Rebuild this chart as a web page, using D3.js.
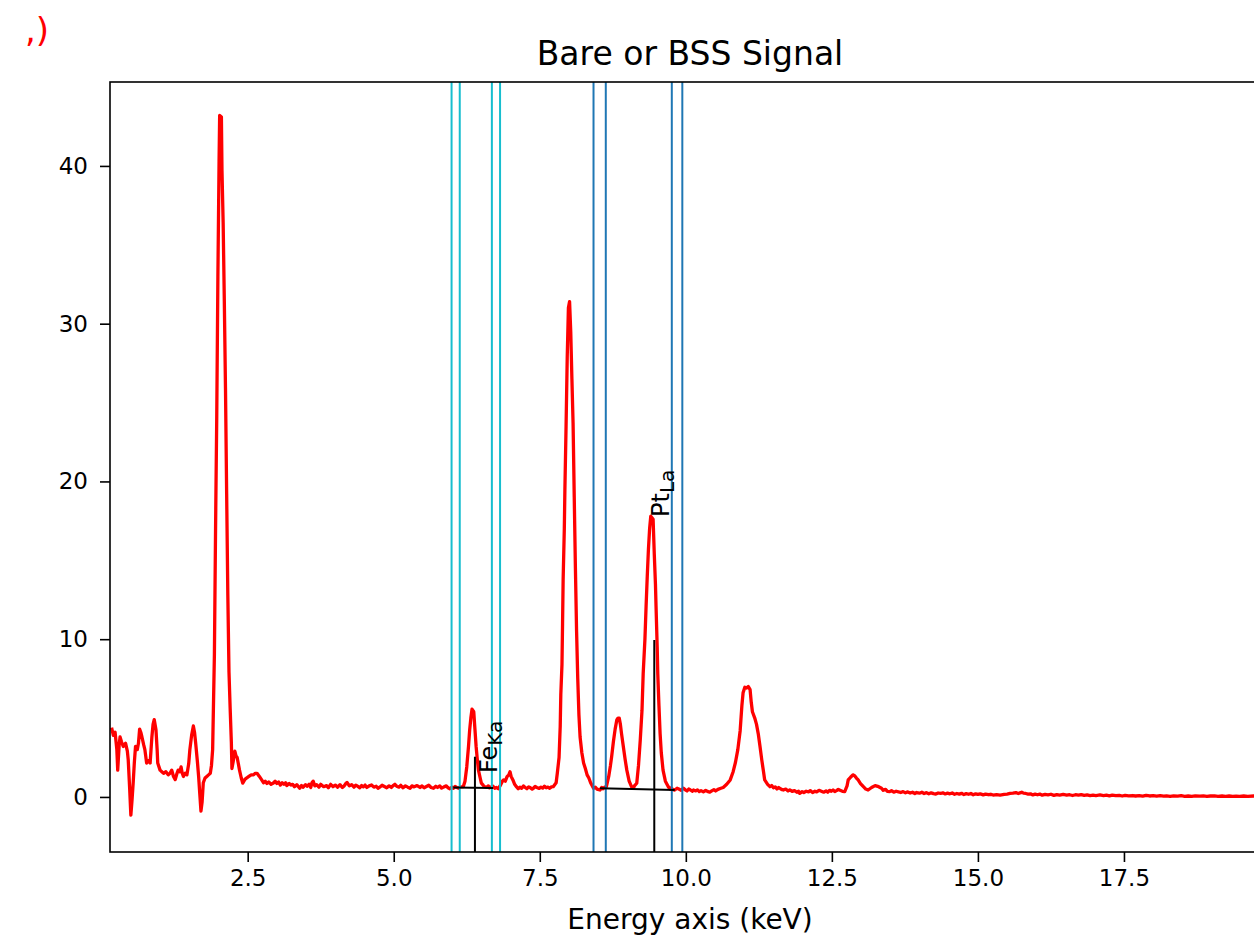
<!DOCTYPE html>
<html>
<head>
<meta charset="utf-8">
<script src="https://cdn.jsdelivr.net/npm/d3@7"></script>
<style>
  body { margin: 0; background: #fff; }
  text { font-family: "DejaVu Sans", sans-serif; }
</style>
</head>
<body>
<div id="chart"></div>
<script>
// spectrum: [energy keV, signal]
const bssSignal = [
  [0.17,4.4],[0.20,3.9],[0.23,4.1],[0.26,3.0],[0.275,1.7],[0.30,3.3],[0.315,3.8],[0.34,3.5],
  [0.37,3.2],[0.41,3.4],[0.44,2.9],[0.455,2.35],[0.48,0.5],[0.50,-1.15],[0.52,-0.2],[0.54,0.9],
  [0.56,2.2],[0.58,3.2],[0.61,3.0],[0.63,3.4],[0.65,4.3],[0.67,4.1],[0.69,3.8],[0.72,3.3],
  [0.74,3.0],[0.77,2.15],[0.80,2.3],[0.83,2.15],[0.86,3.8],[0.88,4.6],[0.90,4.9],[0.93,4.25],
  [0.95,3.0],[0.96,2.15],[1.00,1.7],[1.03,1.6],[1.06,1.5],[1.10,1.6],[1.14,1.4],[1.17,1.5],
  [1.20,1.7],[1.23,1.3],[1.26,1.1],[1.29,1.5],[1.31,1.7],[1.34,1.6],[1.36,1.9],[1.38,1.5],
  [1.40,1.3],[1.43,1.5],[1.46,1.4],[1.49,2.1],[1.51,3.0],[1.54,3.9],[1.57,4.5],[1.59,4.1],
  [1.61,3.4],[1.64,2.2],[1.66,1.3],[1.68,0.2],[1.70,-0.9],[1.72,-0.3],[1.74,0.9],[1.77,1.2],
  [1.80,1.3],[1.83,1.4],[1.86,1.5],[1.88,2.0],[1.90,3.0],[1.93,9.0],[1.95,17.0],[1.97,24.0],
  [1.99,33.0],[2.01,40.3],[2.02,43.2],[2.05,43.1],[2.06,39.7],[2.08,36.4],[2.10,31.4],[2.12,25.9],
  [2.14,19.2],[2.16,12.8],[2.18,7.9],[2.20,5.6],[2.22,3.5],[2.23,1.8],[2.25,2.2],[2.28,2.9],
  [2.30,2.6],[2.32,2.5],[2.34,2.1],[2.36,1.7],[2.39,1.2],[2.415,0.88],[2.45,1.1],[2.48,1.2],
  [2.52,1.3],[2.56,1.4],[2.60,1.4],[2.63,1.5],[2.66,1.5],[2.70,1.3],[2.74,1.08],[2.77,0.9],[2.80,1.0],
  [2.83,0.85],[2.86,0.95],[2.90,0.8],[2.94,0.88],[2.97,1.0],[3.00,0.85],[3.03,0.95],[3.06,0.75],
  [3.09,0.9],[3.12,0.8],[3.15,0.9],[3.17,0.72],[3.21,0.85],[3.24,0.75],[3.27,0.8],[3.30,0.65],
  [3.34,0.78],[3.39,0.55],[3.42,0.72],[3.45,0.62],[3.49,0.78],[3.52,0.68],[3.55,0.8],[3.58,0.6],
  [3.60,0.9],[3.62,1.0],[3.65,0.7],[3.68,0.78],[3.72,0.62],[3.75,0.8],[3.80,0.65],[3.85,0.72],
  [3.88,0.58],[3.92,0.8],[3.96,0.65],[4.00,0.75],[4.04,0.62],[4.08,0.78],[4.12,0.6],[4.15,0.7],
  [4.18,0.85],[4.20,0.92],[4.24,0.7],[4.28,0.78],[4.32,0.62],[4.35,0.75],[4.38,0.68],[4.42,0.58],
  [4.45,0.72],[4.48,0.64],[4.51,0.75],[4.54,0.6],[4.58,0.7],[4.62,0.76],[4.66,0.62],[4.70,0.68],
  [4.73,0.55],[4.76,0.62],[4.80,0.74],[4.84,0.66],[4.88,0.58],[4.92,0.7],[4.96,0.6],[4.99,0.72],
  [5.02,0.8],[5.05,0.68],[5.09,0.62],[5.12,0.74],[5.16,0.58],[5.20,0.7],[5.24,0.62],[5.28,0.55],
  [5.31,0.7],[5.35,0.64],[5.40,0.72],[5.45,0.6],[5.48,0.7],[5.52,0.58],[5.56,0.66],[5.60,0.74],
  [5.64,0.6],[5.68,0.55],[5.72,0.68],[5.75,0.6],[5.79,0.7],[5.82,0.56],[5.86,0.64],[5.90,0.7],
  [5.93,0.58],[5.96,0.52],[6.00,0.62],[6.02,0.55],[6.05,0.66],[6.08,0.6],[6.11,0.55],[6.14,0.64],
  [6.19,0.65],[6.22,1.0],[6.25,1.9],[6.28,3.2],[6.30,4.25],[6.32,5.0],[6.34,5.56],[6.37,5.4],
  [6.39,4.3],[6.41,3.2],[6.43,2.4],[6.45,1.7],[6.48,1.2],[6.50,0.88],[6.53,0.75],[6.55,0.65],
  [6.59,0.61],[6.62,0.7],[6.64,0.58],[6.67,0.64],[6.70,0.68],[6.73,0.55],[6.76,0.6],[6.79,0.52],
  [6.82,0.7],[6.86,1.0],[6.88,1.08],[6.91,1.0],[6.94,1.29],[6.97,1.4],[6.99,1.6],[7.01,1.3],
  [7.04,1.08],[7.07,0.8],[7.10,0.65],[7.13,0.52],[7.16,0.62],[7.19,0.55],[7.22,0.7],[7.25,0.6],
  [7.28,0.52],[7.31,0.64],[7.34,0.58],[7.37,0.5],[7.39,0.55],[7.42,0.66],[7.45,0.6],[7.49,0.54],
  [7.52,0.62],[7.55,0.56],[7.58,0.68],[7.61,0.58],[7.64,0.62],[7.67,0.55],[7.70,0.64],[7.73,0.65],
  [7.78,0.9],[7.80,1.5],[7.83,2.5],[7.85,4.5],[7.86,6.5],[7.88,8.4],[7.89,11.0],
  [7.90,13.8],[7.92,17.0],[7.93,19.5],[7.95,23.5],[7.97,27.9],[7.99,31.0],[8.01,31.4],[8.03,29.5],
  [8.05,26.5],[8.07,23.7],[8.09,19.0],[8.11,14.5],[8.13,10.5],[8.15,7.5],[8.17,5.2],[8.19,3.8],
  [8.22,2.8],[8.25,2.15],[8.28,1.8],[8.31,1.4],[8.34,1.2],[8.37,0.9],[8.42,0.55],[8.45,0.62],[8.48,0.5],
  [8.53,0.44],[8.56,0.6],[8.58,0.52],[8.61,0.62],[8.64,0.65],[8.68,1.3],[8.71,2.0],[8.73,2.55],[8.76,3.5],[8.79,4.3],
  [8.82,4.9],[8.84,5.0],[8.86,5.0],[8.88,4.6],[8.90,4.0],[8.93,3.2],[8.96,2.4],[8.99,1.7],
  [9.03,1.0],[9.07,0.65],[9.10,0.55],[9.12,0.7],[9.16,0.87],[9.19,2.0],[9.22,3.6],[9.25,5.5],[9.27,7.8],
  [9.30,10.0],[9.32,12.1],[9.34,14.0],[9.36,15.7],[9.38,17.0],[9.40,17.8],[9.42,17.7],[9.44,17.6],
  [9.46,15.4],[9.48,13.5],[9.49,12.1],[9.51,9.5],[9.52,7.8],[9.54,5.8],[9.56,4.0],[9.58,2.8],
  [9.61,1.7],[9.65,1.0],[9.70,0.65],[9.73,0.5],[9.75,0.58],[9.78,0.46],[9.81,0.44],[9.85,0.55],[9.88,0.5],
  [9.92,0.42],[9.96,0.55],[9.99,0.45],[10.02,0.38],[10.05,0.5],[10.08,0.44],[10.11,0.36],[10.13,0.44],
  [10.17,0.38],[10.20,0.45],[10.23,0.34],[10.26,0.4],[10.30,0.32],[10.34,0.42],[10.37,0.35],[10.41,0.3],
  [10.45,0.4],[10.48,0.46],[10.51,0.38],[10.55,0.48],
  [10.60,0.55],[10.64,0.6],[10.70,0.8],[10.76,1.08],[10.81,1.6],[10.85,2.2],[10.89,3.0],[10.93,4.2],
  [10.96,5.8],[10.98,6.6],[11.01,6.95],[11.04,6.9],[11.07,7.0],[11.10,6.8],[11.12,6.0],[11.14,5.4],
  [11.18,5.0],[11.21,4.6],[11.24,4.0],[11.27,3.2],[11.30,2.35],[11.33,1.6],[11.35,1.08],[11.40,0.8],
  [11.44,0.65],[11.47,0.72],[11.50,0.58],[11.53,0.64],[11.56,0.5],[11.59,0.6],[11.62,0.52],[11.65,0.46],
  [11.67,0.44],[11.71,0.5],[11.75,0.38],[11.78,0.45],[11.82,0.35],[11.86,0.4],[11.90,0.3],[11.93,0.36],
  [11.95,0.23],[11.99,0.34],[12.02,0.28],[12.06,0.36],[12.10,0.32],[12.13,0.4],[12.17,0.28],[12.21,0.36],
  [12.24,0.32],[12.28,0.42],[12.32,0.36],[12.36,0.3],[12.40,0.38],[12.43,0.3],[12.46,0.42],[12.49,0.36],
  [12.52,0.44],[12.55,0.34],[12.58,0.4],[12.61,0.48],[12.64,0.42],[12.68,0.36],[12.72,0.34],[12.76,0.7],[12.78,1.08],[12.82,1.25],[12.86,1.4],
  [12.89,1.35],[12.92,1.2],[12.95,1.08],[12.99,0.85],[13.04,0.65],[13.08,0.5],[13.12,0.44],[13.18,0.6],
  [13.24,0.72],[13.30,0.65],[13.35,0.55],[13.38,0.42],[13.42,0.48],[13.45,0.36],[13.49,0.34],[13.52,0.4],[13.56,0.3],[13.60,0.36],[13.64,0.32],[13.68,0.28],[13.72,0.34],
  [13.76,0.26],[13.80,0.32],[13.84,0.25],[13.88,0.3],[13.92,0.22],[13.95,0.28],[14.00,0.24],[14.04,0.3],[14.08,0.22],[14.12,0.27],[14.16,0.2],[14.20,0.26],
  [14.24,0.21],[14.28,0.18],[14.32,0.25],[14.36,0.22],[14.40,0.26],[14.44,0.19],[14.48,0.24],[14.52,0.2],
  [14.56,0.25],[14.60,0.17],[14.64,0.22],[14.68,0.18],[14.72,0.23],[14.76,0.15],[14.80,0.21],[14.84,0.17],
  [14.88,0.22],[14.92,0.14],[14.96,0.2],[15.00,0.16],[15.04,0.2],[15.09,0.13],[15.13,0.18],[15.18,0.14],
  [15.22,0.17],[15.26,0.12],[15.32,0.15],[15.38,0.12],[15.45,0.16],[15.50,0.18],[15.55,0.22],[15.60,0.24],[15.65,0.28],
  [15.69,0.22],[15.72,0.26],[15.75,0.3],[15.78,0.24],[15.82,0.22],[15.86,0.18],[15.90,0.2],[15.94,0.13],
  [15.98,0.18],[16.02,0.14],[16.06,0.18],[16.10,0.11],[16.15,0.16],[16.20,0.13],[16.25,0.17],[16.30,0.1],
  [16.35,0.15],[16.40,0.12],[16.46,0.16],[16.52,0.11],[16.57,0.14],[16.62,0.09],[16.67,0.14],[16.72,0.11],
  [16.77,0.15],[16.82,0.1],[16.87,0.13],[16.92,0.09],[16.97,0.12],[17.02,0.09],[17.09,0.13],[17.15,0.09],
  [17.20,0.11],[17.25,0.07],[17.30,0.12],[17.36,0.08],[17.42,0.1],[17.47,0.06],[17.52,0.1],[17.58,0.07],
  [17.65,0.09],[17.70,0.06],[17.76,0.08],[17.82,0.05],[17.88,0.1],[17.94,0.06],[18.00,0.08],[18.06,0.05],
  [18.12,0.08],[18.18,0.05],[18.23,0.07],[18.29,0.04],[18.35,0.07],[18.42,0.05],[18.48,0.08],[18.54,0.04],
  [18.60,0.06],[18.66,0.04],[18.72,0.07],[18.80,0.05],[18.86,0.07],[18.92,0.04],[18.98,0.06],[19.05,0.07],
  [19.11,0.04],[19.18,0.06],[19.24,0.04],[19.30,0.06],[19.36,0.03],[19.42,0.05],[19.48,0.04],[19.55,0.06],
  [19.62,0.04],[19.72,0.06],[19.78,0.04],[19.85,0.05],[19.92,0.03],[19.99,0.05]
];

// integration window edges (keV)
const bgWindows = [5.99, 6.13, 6.68, 6.82];      // Fe Ka, cyan
const peakWindows = [8.42, 8.63, 9.76, 9.94];    // Pt La, blue

// background fit lines under each peak
const bgFits = [
  {e0: 6.02, v0: 0.60, e1: 6.70, v1: 0.57},
  {e0: 8.53, v0: 0.55, e1: 9.81, v1: 0.44}
];

// line markers and their labels
const lineMarks = [
  {el: "Fe", sub: "Ka", energy: 6.39, height: 2.55, labelE: 6.48, labelV: 1.52},
  {el: "Pt", sub: "La", energy: 9.46, height: 9.95, labelE: 9.42, labelV: 17.75}
];

const xTicks = [2.5, 5.0, 7.5, 10.0, 12.5, 15.0, 17.5];
const yTicks = [0, 10, 20, 30, 40];
const xDomain = [0.143, 20.0];
const yDomain = [-3.49, 45.32];

let margin = {top: 82, left: 110},
    plotW = 1160,
    plotH = 770;

let svg = d3.select("#chart").append("svg")
    .attr("width", 1254)
    .attr("height", 941);

let x = d3.scaleLinear().domain(xDomain).range([margin.left, margin.left + plotW]);
let y = d3.scaleLinear().domain(yDomain).range([margin.top + plotH, margin.top]);

// clip to axes
svg.append("defs").append("clipPath").attr("id", "plotclip")
  .append("rect")
    .attr("x", margin.left).attr("y", margin.top)
    .attr("width", plotW).attr("height", plotH);

let plot = svg.append("g").attr("clip-path", "url(#plotclip)");

// spectrum
let line = d3.line()
    .x(function(d) { return x(d[0]); })
    .y(function(d) { return y(d[1]); });

plot.append("path")
    .datum(bssSignal)
    .attr("d", line)
    .attr("fill", "none")
    .attr("stroke", "#ff0000")
    .attr("stroke-width", 3.3)
    .attr("stroke-linejoin", "round");

// window lines
plot.selectAll(".bgwin")
    .data(bgWindows)
  .enter().append("line")
    .attr("x1", function(d) { return x(d); }).attr("x2", function(d) { return x(d); })
    .attr("y1", margin.top).attr("y2", margin.top + plotH)
    .attr("stroke", "#17becf").attr("stroke-width", 2);

plot.selectAll(".pkwin")
    .data(peakWindows)
  .enter().append("line")
    .attr("x1", function(d) { return x(d); }).attr("x2", function(d) { return x(d); })
    .attr("y1", margin.top).attr("y2", margin.top + plotH)
    .attr("stroke", "#1f77b4").attr("stroke-width", 2);

// background fits
plot.selectAll(".bgfit")
    .data(bgFits)
  .enter().append("line")
    .attr("x1", function(d) { return x(d.e0); }).attr("y1", function(d) { return y(d.v0); })
    .attr("x2", function(d) { return x(d.e1); }).attr("y2", function(d) { return y(d.v1); })
    .attr("stroke", "#000").attr("stroke-width", 2);

// line markers
plot.selectAll(".mark")
    .data(lineMarks)
  .enter().append("line")
    .attr("x1", function(d) { return x(d.energy); }).attr("x2", function(d) { return x(d.energy); })
    .attr("y1", y(yDomain[0])).attr("y2", function(d) { return y(d.height); })
    .attr("stroke", "#000").attr("stroke-width", 2);

let labels = svg.selectAll(".marklabel")
    .data(lineMarks)
  .enter().append("text")
    .attr("class", "marklabel")
    .attr("transform", function(d) {
        return "translate(" + (x(d.labelE) + 17) + "," + y(d.labelV) + ") rotate(-90)";
    })
    .style("font-size", "24px")
    .attr("fill", "#000");
labels.append("tspan").text(function(d) { return d.el; });
labels.append("tspan")
    .attr("dy", 5)
    .style("font-size", "20px")
    .text(function(d) { return d.sub; });

// axes
let xAxis = d3.axisBottom(x).tickValues(xTicks).tickFormat(d3.format(".1f")).tickSize(10).tickPadding(8);
let yAxis = d3.axisLeft(y).tickValues(yTicks).tickFormat(d3.format("d")).tickSize(10).tickPadding(12);

let gx = svg.append("g")
    .attr("transform", "translate(0," + (margin.top + plotH) + ")")
    .call(xAxis);
let gy = svg.append("g")
    .attr("transform", "translate(" + margin.left + ",0)")
    .call(yAxis);

[gx, gy].forEach(function(g) {
    g.select(".domain").remove();
    g.selectAll(".tick line").attr("stroke", "#000").attr("stroke-width", 1.6);
    g.selectAll(".tick text")
        .attr("fill", "#000")
        .style("font-size", "23px")
        .style("font-family", "'DejaVu Sans', sans-serif");
});

// frame
svg.append("rect")
    .attr("x", margin.left).attr("y", margin.top)
    .attr("width", plotW).attr("height", plotH)
    .attr("fill", "none").attr("stroke", "#000").attr("stroke-width", 1.6);

// title and axis label
svg.append("text")
    .attr("x", margin.left + plotW / 2).attr("y", 65)
    .style("text-anchor", "middle")
    .style("font-size", "33px")
    .text("Bare or BSS Signal");

svg.append("text")
    .attr("x", margin.left + plotW / 2).attr("y", 929)
    .style("text-anchor", "middle")
    .style("font-size", "28px")
    .text("Energy axis (keV)");

// stray output text in the corner
svg.append("text")
    .attr("x", 25).attr("y", 42)
    .attr("fill", "#ff0000")
    .style("font-size", "34px")
    .text(",)");
</script>
</body>
</html>
